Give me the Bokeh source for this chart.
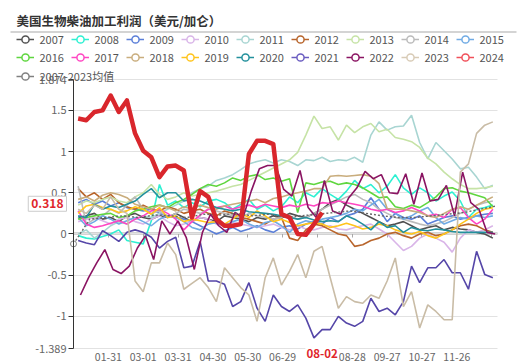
from bokeh.plotting import figure
from bokeh.models import (Range1d, FixedTicker, Label, Legend, LegendItem,
                          ColumnDataSource, BoxAnnotation, LinearAxis)
from bokeh.embed import file_html
from bokeh.resources import INLINE

FONT = "Noto Sans CJK SC"

# ---------------- data ----------------
title_text = "美国生物柴油加工利润（美元/加仑）"
years = [2007, 2008, 2009, 2010, 2011, 2012, 2013, 2014, 2015, 2016,
         2017, 2018, 2019, 2020, 2021, 2022, 2023, 2024]
avg_label = "2007-2023均值"

x_tick_days = [30, 60, 90, 120, 150, 180, 240, 270, 300, 330]
x_tick_labels = ["01-31", "03-01", "03-31", "04-30", "05-30", "06-29",
                 "08-28", "09-27", "10-27", "11-26"]
zero_tick_days = [30, 60, 90, 120, 150, 180, 210, 240, 270, 300, 330, 360]
y_ticks = [-1.389, -1, -0.5, 0, 0.5, 1, 1.5, 1.874]
y_tick_labels = ["-1.389", "-1", "-0.5", "0", "0.5", "1", "1.5", "1.874"]
day_min, day_max = 0, 365
y_min, y_max = -1.389, 1.874

pointer_x_day = 214
pointer_x_label = "08-02"
pointer_y_value = 0.318
pointer_y_label = "0.318"

start_day = {2022: 6}
v2007 = [0.2, 0.22, 0.25, 0.18, 0.2, 0.15, 0.22, 0.25, 0.2, 0.18,
         0.22, 0.2, 0.25, 0.2, 0.15, 0.2, 0.18, 0.15, 0.22, 0.2,
         0.18, 0.15, 0.2, 0.18, 0.22, 0.2, 0.25, 0.22, 0.2, 0.25,
         0.3, 0.38, 0.42, 0.35, 0.3, 0.25, 0.2, 0.15, 0.1, 0.12,
         0.15, 0.1, 0.05, 0.08, 0.1, 0.05, 0.08, 0.06, 0.05, 0.02,
         0.0, -0.05]
v2008 = [-0.02, -0.05, -0.06, -0.03, 0.0, 0.05, -0.08, -0.1, -0.12, 0.16,
         0.6, 0.35, 0.4, 0.32, 0.38, 0.33, 0.4, 0.42, 0.38, 0.3,
         0.36, 0.42, 0.3, 0.35, 0.28, 0.33, 0.45, 0.38, 0.5, 0.45,
         0.55, 0.48, 0.42, 0.52, 0.65, 0.55, 0.6, 0.5, 0.58, 0.72,
         0.56, 0.48, 0.56, 0.5, 0.4, 0.46, 0.51, 0.4, 0.2, 0.3,
         0.32, 0.35]
v2009 = [0.38, 0.42, 0.36, 0.4, 0.34, 0.38, 0.32, 0.3, 0.28, 0.3,
         0.25, 0.22, 0.2, 0.18, 0.15, 0.1, 0.05, 0.0, 0.04, 0.08,
         0.03, 0.06, 0.1, 0.05, 0.02, 0.08, 0.1, 0.06, 0.12, 0.15,
         0.12, 0.2, 0.15, 0.22, 0.25, 0.3, 0.44, 0.3, 0.15, 0.25,
         0.2, 0.18, 0.22, 0.12, 0.16, 0.2, 0.22, 0.18, 0.2, 0.22,
         0.24, 0.25]
v2010 = [0.15, 0.18, 0.2, 0.16, 0.12, 0.18, 0.2, 0.15, 0.12, 0.18,
         0.22, 0.15, 0.1, 0.12, 0.15, 0.2, 0.18, 0.12, 0.1, 0.14,
         0.12, 0.1, 0.08, 0.1, 0.12, 0.08, 0.05, 0.1, 0.06, 0.05,
         0.08, 0.1, 0.06, 0.05, 0.08, 0.1, 0.12, 0.06, 0.0, -0.1,
         -0.2, -0.15, -0.05, 0.0, -0.05, -0.1, -0.22, -0.05, 0.05, 0.02,
         0.05, 0.1]
v2011 = [0.0, 0.05, -0.05, 0.02, 0.1, 0.15, 0.12, 0.18, 0.22, 0.2,
         0.25, 0.3, 0.35, 0.4, 0.5, 0.55, 0.58, 0.65, 0.68, 0.72,
         0.78, 0.85, 0.88, 0.9, 0.86, 0.9, 0.88, 0.83, 0.9, 0.89,
         0.93, 0.88, 0.9, 0.89, 0.93, 0.87, 1.2, 1.36, 1.26, 1.3,
         1.31, 1.44, 1.11, 0.91, 1.11, 1.01, 0.91, 0.79, 0.81, 0.69,
         0.55, 0.59]
v2012 = [0.55, 0.45, 0.5, 0.42, 0.48, 0.38, 0.33, 0.3, 0.35, 0.3,
         0.28, 0.33, 0.3, 0.25, 0.28, 0.3, 0.25, 0.22, 0.28, 0.25,
         0.2, 0.18, 0.15, 0.12, 0.18, 0.2, -0.05, -0.08, 0.05, 0.12,
         0.1, 0.05, 0.0, -0.02, -0.15, -0.13, -0.08, -0.05, 0.0, 0.02,
         -0.02, -0.05, 0.0, 0.02, -0.02, 0.0, 0.05, 0.1, 0.12, 0.1,
         0.05, 0.02]
v2013 = [0.35, 0.4, 0.38, 0.42, 0.45, 0.4, 0.38, 0.45, 0.5, 0.6,
         0.48, 0.42, 0.45, 0.5, 0.46, 0.48, 0.5, 0.52, 0.55, 0.58,
         0.6, 0.65, 0.7, 0.75, 0.8, 0.85, 0.9, 0.99, 1.2, 1.43,
         1.28, 1.3, 1.14, 1.32, 1.23, 1.3, 1.34, 1.24, 1.27, 1.17,
         1.15, 1.12, 1.05, 0.92, 0.85, 0.75, 0.67, 0.6, 0.55, 0.55,
         0.56, 0.58]
v2014 = [0.58, 0.12, 0.18, 0.22, 0.3, 0.25, 0.35, 0.45, 0.3, 0.25,
         0.28, 0.2, 0.25, 0.3, 0.28, 0.25, 0.3, 0.28, 0.25, 0.22,
         0.2, 0.25, 0.22, 0.2, 0.18, 0.2, 0.22, 0.18, 0.2, 0.25,
         0.3, 0.35, 0.4, 0.45, 0.48, 0.42, 0.38, 0.3, 0.25, 0.2,
         0.18, 0.15, 0.12, 0.1, 0.12, 0.15, 0.2, 0.25, 0.3, 0.35,
         0.38, 0.4]
v2015 = [0.2, 0.1, 0.15, 0.22, 0.18, 0.12, 0.16, 0.2, 0.15, 0.1,
         0.18, 0.22, 0.2, 0.15, 0.08, 0.05, 0.12, 0.14, 0.1, 0.15,
         0.18, 0.12, 0.08, 0.14, 0.16, 0.1, 0.02, 0.12, 0.16, 0.14,
         0.18, 0.2, 0.22, 0.25, 0.3, 0.28, 0.35, 0.42, 0.3, 0.25,
         0.18, 0.22, 0.28, 0.32, 0.2, 0.12, 0.16, 0.2, 0.18, 0.22,
         0.2, 0.22]
v2016 = [0.18, 0.2, 0.22, 0.24, 0.25, 0.2, 0.22, 0.28, 0.3, 0.33,
         0.35, 0.32, 0.38, 0.42, 0.48, 0.55, 0.6, 0.58, 0.62, 0.68,
         0.65, 0.7, 0.72, 0.66, 0.68, 0.64, 0.67, 0.26, 0.62, 0.6,
         0.63, 0.64, 0.6, 0.62, 0.6, 0.56, 0.5, 0.44, 0.45, 0.33,
         0.31, 0.35, 0.32, 0.38, 0.45, 0.55, 0.56, 0.52, 0.5, 0.47,
         0.44, 0.33]
v2017 = [0.28, 0.12, 0.08, 0.1, 0.13, 0.16, 0.12, 0.18, 0.22, 0.28,
         0.3, 0.25, 0.18, 0.05, 0.15, 0.23, 0.3, 0.32, 0.34, 0.3,
         0.33, 0.35, 0.32, 0.36, 0.34, 0.32, 0.35, 0.33, 0.36, 0.34,
         0.38, 0.37, 0.4, 0.38, 0.36, 0.34, 0.3, 0.28, 0.3, 0.26,
         0.28, 0.32, 0.28, 0.22, 0.24, 0.2, 0.3, 0.32, 0.2, 0.12,
         0.18, 0.3]
v2018 = [0.42, 0.45, 0.4, 0.47, 0.5, 0.48, 0.44, 0.36, 0.33, 0.3,
         0.35, 0.32, 0.28, 0.33, 0.3, 0.35, 0.32, 0.3, 0.34, 0.36,
         0.38, 0.4, 0.42, 0.38, 0.43, 0.45, 0.48, 0.5, 0.52, 0.55,
         0.55, 0.7, 0.71, 0.7, 0.71, 0.72, 0.7, 0.61, 0.31, 0.3,
         0.3, 0.28, 0.26, 0.22, 0.2, 0.25, 0.3, 0.33, 0.3, 0.35,
         0.4, 0.45]
v2019 = [0.25, 0.34, 0.36, 0.32, 0.3, 0.26, 0.28, 0.33, 0.3, 0.24,
         0.32, 0.2, 0.22, 0.15, 0.18, 0.16, 0.14, 0.15, 0.12, 0.18,
         0.25, 0.2, 0.28, 0.22, 0.15, 0.18, 0.14, 0.1, 0.12, 0.14,
         0.12, 0.08, 0.1, 0.13, 0.1, 0.06, 0.08, 0.12, 0.1, 0.05,
         0.02, 0.0, 0.03, -0.02, -0.05, 0.0, 0.05, 0.12, 0.18, 0.25,
         0.3, 0.32]
v2020 = [0.22, 0.2, 0.36, 0.3, 0.34, 0.32, 0.36, 0.4, 0.48, 0.55,
         0.44, 0.5, 0.5, 0.4, 0.42, 0.4, 0.36, 0.32, 0.3, 0.28,
         0.3, 0.27, 0.26, 0.25, 0.24, 0.22, 0.2, 0.18, 0.2, 0.17,
         0.15, 0.16, 0.15, 0.22, 0.18, 0.12, 0.05, 0.15, 0.08, 0.1,
         0.02, 0.08, 0.05, 0.04, 0.06, 0.05, 0.03, 0.02, 0.02, 0.02,
         0.02, 0.02]
v2021 = [-0.08, -0.11, -0.13, 0.04, -0.02, -0.09, 0.02, 0.05, 0.02, -0.04,
         -0.17, -0.09, -0.04, -0.41, -0.39, -0.09, -0.57, -0.57, -0.61, -0.88,
         -0.82, -0.59, -0.90, -1.06, -0.74, -0.88, -0.94, -0.86, -1.02, -1.26,
         -1.16, -1.16, -1.00, -1.08, -1.12, -1.06, -0.78, -0.94, -0.90, -0.98,
         -0.82, -0.39, -0.59, -0.41, -0.41, -0.31, -0.47, -0.47, -0.67, -0.21,
         -0.49, -0.53]
v2022 = [-0.74, -0.53, -0.35, -0.19, -0.43, -0.48, -0.39, -0.17, -0.02, -0.31,
         0.16, 0.0, 0.16, -0.04, -0.43, 0.02, 0.24, 0.10, 0.02, 0.26,
         0.20, 0.52, 0.79, 0.83, 0.83, 0.54, 0.46, 0.77, 0.32, 0.20,
         0.65, 0.28, 0.24, 0.44, 0.56, 0.76, 0.67, 0.72, 0.50, 0.49,
         0.73, 0.36, 0.74, 0.40, 0.42, 0.59, 0.22, 0.75, 0.38, 0.30,
         0.02, 0.0]
v2023 = [0.3, 0.25, 0.35, 0.3, 0.45, 0.3, 0.25, -0.57, -0.70, -0.35,
         -0.35, -0.11, -0.25, -0.67, -0.60, -0.53, -0.65, -0.82, -0.41, -0.53,
         -0.65, -0.74, -1.06, -0.53, -0.29, -0.62, -0.45, -0.25, -0.53, -0.21,
         -0.15, -0.53, -0.90, -0.76, -0.82, -0.84, -0.74, -0.78, -0.57, -0.29,
         -0.88, -0.70, -1.14, -0.86, -0.94, -1.04, -1.04, 0.75, 0.85, 1.22,
         1.32, 1.36]
v2024 = [1.40, 1.38, 1.48, 1.50, 1.68, 1.48, 1.62, 1.22, 1.01, 0.93,
         0.69, 0.82, 0.83, 0.77, 0.20, 0.52, 0.45, 0.18, 0.10, 0.10,
         0.12, 0.97, 1.13, 1.13, 1.09, 0.24, 0.20, 0.0, -0.01, 0.12,
         0.26]
v_avg = [-0.12, 0.18, 0.2, 0.22, 0.2, 0.23, 0.22, 0.2, 0.24, 0.23,
         0.25, 0.22, 0.24, 0.2, 0.22, 0.24, 0.26, 0.28, 0.25, 0.22,
         0.2, 0.2, 0.22, 0.24, 0.26, 0.3, 0.34]

values = {2007: v2007, 2008: v2008, 2009: v2009, 2010: v2010, 2011: v2011,
          2012: v2012, 2013: v2013, 2014: v2014, 2015: v2015, 2016: v2016,
          2017: v2017, 2018: v2018, 2019: v2019, 2020: v2020, 2021: v2021,
          2022: v2022, 2023: v2023, 2024: v2024}

colors = {2007: "#505050", 2008: "#2ef0d2", 2009: "#5b7fd8", 2010: "#d9b5e8",
          2011: "#a8d5d2", 2012: "#b8652c", 2013: "#c6e3a6", 2014: "#bbbbbb",
          2015: "#70abe4", 2016: "#5fd63f", 2017: "#ff46c2", 2018: "#c9ad7d",
          2019: "#ffc41c", 2020: "#23909c", 2021: "#5546a8", 2022: "#8a1462",
          2023: "#c9bca6", 2024: "#d9262c"}
legend_colors = dict(colors)
legend_colors[2021] = "#6a5cc0"
legend_colors[2023] = "#d8cbb6"
legend_colors[2024] = "#f0505a"
avg_color = "#808080"

# ---------------- geometry (pixels of the 519x361 canvas) ----------------
W, H = 519, 361
PL, PR, PT, PB = 73, 497, 79, 348        # plot area edges
kx = (PR - PL) / (day_max - day_min)
ky = (PB - PT) / (y_max - y_min)
x_range = Range1d(day_min - PL / kx, day_max + (W - PR) / kx)
y_range = Range1d(y_min - (H - PB) / ky, y_max + PT / ky)

p = figure(width=W, height=H, output_backend="svg", toolbar_location=None,
           tools="", x_range=x_range, y_range=y_range,
           min_border_left=0, min_border_right=0, min_border_top=0,
           min_border_bottom=0)
p.outline_line_color = None
p.background_fill_color = "white"
p.border_fill_color = "white"
p.xgrid.visible = False

# horizontal grid lines limited to the plot area
p.ygrid.ticker = FixedTicker(ticks=y_ticks)
p.ygrid.grid_line_color = "#e2e2e2"
try:
    p.ygrid.cross_bounds = (day_min, day_max)
except AttributeError:
    p.ygrid.visible = False
    p.segment(x0=[day_min] * len(y_ticks), x1=[day_max] * len(y_ticks),
              y0=y_ticks, y1=y_ticks, line_color="#e2e2e2", line_width=1)

# y axis at left edge of plot area
ya = p.yaxis[0]
ya.fixed_location = day_min
ya.bounds = (y_min, y_max)
ya.ticker = FixedTicker(ticks=y_ticks)
ya.major_label_overrides = {float(t): s for t, s in zip(y_ticks, y_tick_labels)}
ya.axis_line_color = "#333333"
ya.major_tick_line_color = "#333333"
ya.major_tick_out = 5
ya.major_tick_in = 0
ya.minor_tick_line_color = None
ya.major_label_text_font = FONT
ya.major_label_text_font_size = "11px"
ya.major_label_text_color = "#666666"
ya.major_label_standoff = 2

# x axis labels at the bottom of the plot area
xa = p.xaxis[0]
xa.fixed_location = y_min
xa.bounds = (day_min, day_max)
xa.ticker = FixedTicker(ticks=x_tick_days)
xa.major_label_overrides = {float(t): s for t, s in zip(x_tick_days, x_tick_labels)}
xa.axis_line_color = None
xa.major_tick_line_color = None
xa.minor_tick_line_color = None
xa.major_label_text_font = FONT
xa.major_label_text_font_size = "10.5px"
xa.major_label_text_color = "#666666"
xa.major_label_standoff = -2

# zero axis line with ticks
za = LinearAxis(fixed_location=0, bounds=(day_min, day_max),
                ticker=FixedTicker(ticks=zero_tick_days),
                axis_line_color="#a8a8a8", axis_line_width=2,
                major_tick_line_color="#a8a8a8", major_tick_out=4, major_tick_in=0,
                minor_tick_line_color=None, major_label_text_color=None,
                major_label_text_font_size="1px", level="underlay")
p.add_layout(za, "below")

# ---------------- series ----------------
def days_for(year, n):
    s = start_day.get(year, 4)
    return [s + 7 * i for i in range(n)]

for y in years[:-1]:
    vals = values[y]
    p.line(days_for(y, len(vals)), vals, line_color=colors[y], line_width=1.6)

avg_days = [14 * i for i in range(len(v_avg))]
p.line(avg_days, v_avg, line_color="#666666", line_width=1.4, line_dash="2 2")
p.scatter([avg_days[0]], [v_avg[0]], marker="circle", size=6,
          line_color="#888888", fill_color="white", line_width=1)

p.line(days_for(2024, len(v2024)), v2024, line_color=colors[2024], line_width=4.5,
       line_join="round")

# ---------------- legend ----------------
NAN = float("nan")

def legend_item(label, color):
    src = ColumnDataSource(data=dict(x=[NAN], y=[NAN]))
    lr = p.line("x", "y", source=src, line_color=color, line_width=1.5)
    sr = p.scatter("x", "y", source=src, marker="circle", size=8,
                   line_color=color, fill_color="white", line_width=1.5)
    return LegendItem(label=label, renderers=[lr, sr])

items1 = [legend_item(str(y), legend_colors[y]) for y in years]
items2 = [legend_item(avg_label, avg_color)]

leg_kw = dict(orientation="horizontal", label_text_font=FONT,
              label_text_font_size="11px", label_text_color="#555555",
              glyph_width=18, glyph_height=18, label_height=18, label_width=31,
              label_standoff=6, spacing=0, padding=0, margin=0,
              border_line_color=None, background_fill_alpha=0)
leg1 = Legend(items=items1, ncols=9, location=(15.5, H - 65.5), **leg_kw)
leg2 = Legend(items=items2, location=(15.5, H - 85), **leg_kw)
p.add_layout(leg1, "center")
p.add_layout(leg2, "center")

# ---------------- title and separator ----------------
p.add_layout(Label(x=16, y=H - 20, x_units="screen", y_units="screen",
                   text=title_text, text_font=FONT, text_font_size="12.5px",
                   text_font_style="bold", text_color="#333333",
                   text_baseline="middle"))
p.add_layout(BoxAnnotation(left=10, right=516, bottom=H - 32, top=H - 31,
                           left_units="screen", right_units="screen",
                           bottom_units="screen", top_units="screen",
                           fill_color="#aaaaaa", fill_alpha=1, line_color=None))

# ---------------- pointer labels ----------------
p.add_layout(Label(x=PL - 7, y=pointer_y_value, x_units="screen", y_units="data",
                   y_offset=4, text=pointer_y_label, text_font=FONT,
                   text_font_size="12px", text_font_style="bold",
                   text_color="#e0262c", text_align="right",
                   text_baseline="middle", background_fill_color="white",
                   border_line_color="#cccccc", padding=3))
p.add_layout(Label(x=pointer_x_day, y=y_min, x_units="data", y_units="data",
                   y_offset=1, text=pointer_x_label, text_font=FONT,
                   text_font_size="11.5px", text_font_style="bold",
                   text_color="#e0262c", text_align="center",
                   text_baseline="top", background_fill_color="white",
                   padding=1))

open("out.html", "w").write(file_html(p, INLINE))
